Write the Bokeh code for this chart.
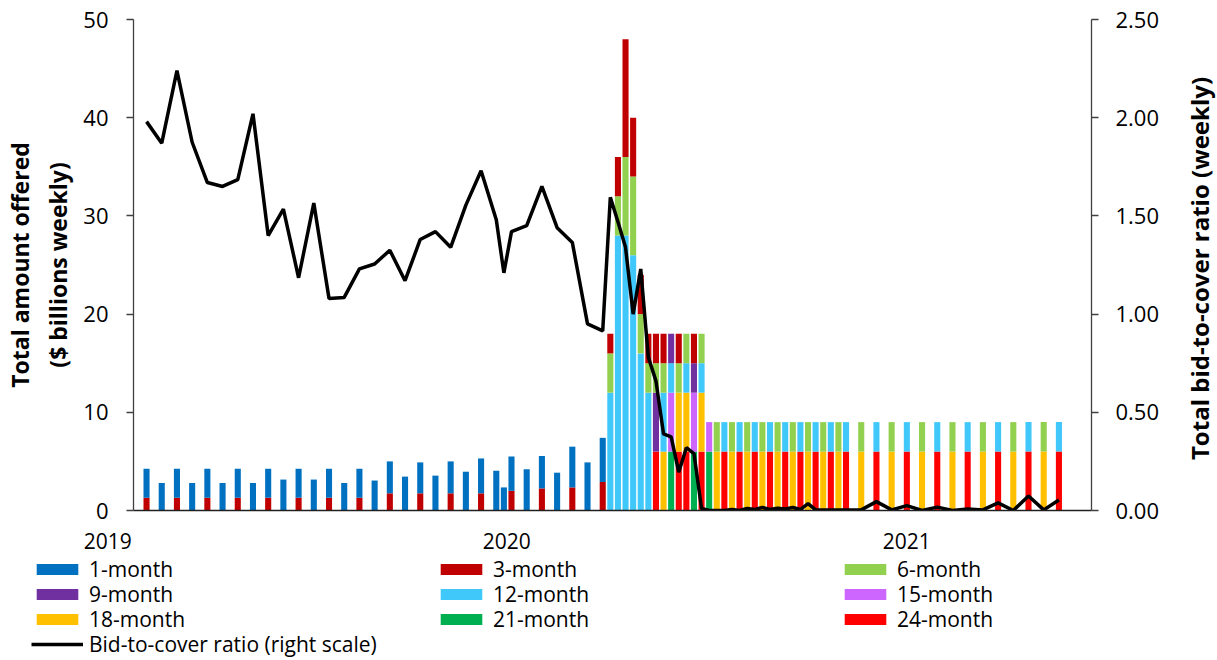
import math
import datetime as dt
import pandas as pd
from bokeh.plotting import figure
from bokeh.layouts import column, row
from bokeh.models import (ColumnDataSource, Range1d, LinearAxis, FixedTicker, Legend,
                          LegendItem, NumeralTickFormatter)
from bokeh.core.properties import value
from bokeh.embed import file_html
from bokeh.resources import INLINE

# ---------------- data ----------------
dates = [
    "2019-01-31", "2019-02-14", "2019-02-28", "2019-03-14", "2019-03-28", "2019-04-11",
    "2019-04-25", "2019-05-09", "2019-05-23", "2019-06-06", "2019-06-20", "2019-07-04",
    "2019-07-18", "2019-08-01", "2019-08-15", "2019-08-29", "2019-09-12", "2019-09-26",
    "2019-10-10", "2019-10-24", "2019-11-07", "2019-11-21", "2019-12-05", "2019-12-19",
    "2019-12-26",
    "2020-01-02", "2020-01-16", "2020-01-30", "2020-02-13", "2020-02-27", "2020-03-12",
    "2020-03-26",
    "2020-04-02", "2020-04-09", "2020-04-16", "2020-04-23", "2020-04-30", "2020-05-07",
    "2020-05-14", "2020-05-21", "2020-05-28", "2020-06-04", "2020-06-11", "2020-06-18",
    "2020-06-25",
    "2020-07-02", "2020-07-09", "2020-07-16", "2020-07-23", "2020-07-30", "2020-08-06",
    "2020-08-13", "2020-08-20", "2020-08-27", "2020-09-03", "2020-09-10", "2020-09-17",
    "2020-09-24", "2020-10-01", "2020-10-08", "2020-10-15", "2020-10-22", "2020-10-29",
    "2020-11-05",
    "2020-11-19", "2020-12-03", "2020-12-17", "2020-12-31", "2021-01-14", "2021-01-28",
    "2021-02-11", "2021-02-25", "2021-03-11", "2021-03-25", "2021-04-08", "2021-04-22",
    "2021-05-06", "2021-05-20",
]

m1 = [
    2.95, 2.8, 2.95, 2.8, 2.95, 2.8, 2.95, 2.8, 2.95, 3.15, 2.95, 3.15,
    2.95, 2.8, 2.95, 3.05, 3.25, 3.45, 3.15, 3.55, 3.25, 3.95, 3.55, 4.05,
    2.35,
    3.5, 4.2, 3.3, 3.85, 4.15, 4.9, 4.5,
    0, 0, 0, 0, 0, 0, 0, 0, 0, 0, 0, 0, 0,
    0, 0, 0, 0, 0, 0, 0, 0, 0, 0, 0, 0, 0, 0, 0, 0, 0, 0, 0,
    0, 0, 0, 0, 0, 0, 0, 0, 0, 0, 0, 0, 0, 0,
]
m3 = [
    1.3, 0, 1.3, 0, 1.3, 0, 1.3, 0, 1.3, 0, 1.3, 0,
    1.3, 0, 1.3, 0, 1.75, 0, 1.75, 0, 1.75, 0, 1.75, 0,
    0,
    2.0, 0, 2.25, 0, 2.35, 0, 2.9,
    2, 4, 12, 6, 4, 3, 3, 3, 0, 3, 0, 3, 0,
    0, 0, 0, 0, 0, 0, 0, 0, 0, 0, 0, 0, 0, 0, 0, 0, 0, 0, 0,
    0, 0, 0, 0, 0, 0, 0, 0, 0, 0, 0, 0, 0, 0,
]
m6 = [
    0, 0, 0, 0, 0, 0, 0, 0, 0, 0, 0, 0,
    0, 0, 0, 0, 0, 0, 0, 0, 0, 0, 0, 0,
    0,
    0, 0, 0, 0, 0, 0, 0,
    4, 4, 8, 8, 4, 3, 3, 3, 0, 3, 3, 0, 3,
    0, 3, 0, 3, 0, 3, 0, 3, 0, 3, 0, 3, 0, 3, 0, 3, 0, 3, 0,
    3, 0, 3, 0, 3, 0, 3, 0, 3, 0, 3, 0, 3, 0,
]
m9 = [
    0, 0, 0, 0, 0, 0, 0, 0, 0, 0, 0, 0,
    0, 0, 0, 0, 0, 0, 0, 0, 0, 0, 0, 0,
    0,
    0, 0, 0, 0, 0, 0, 0,
    0, 0, 0, 0, 0, 0, 6, 0, 3, 0, 0, 3, 0,
    0, 0, 0, 0, 0, 0, 0, 0, 0, 0, 0, 0, 0, 0, 0, 0, 0, 0, 0,
    0, 0, 0, 0, 0, 0, 0, 0, 0, 0, 0, 0, 0, 0,
]
m12 = [
    0, 0, 0, 0, 0, 0, 0, 0, 0, 0, 0, 0,
    0, 0, 0, 0, 0, 0, 0, 0, 0, 0, 0, 0,
    0,
    0, 0, 0, 0, 0, 0, 0,
    12, 28, 28, 26, 16, 12, 0, 6, 3, 0, 3, 0, 3,
    0, 0, 3, 0, 3, 0, 3, 0, 3, 0, 3, 0, 3, 0, 3, 0, 3, 0, 3,
    0, 3, 0, 3, 0, 3, 0, 3, 0, 3, 0, 3, 0, 3,
]
m15 = [
    0, 0, 0, 0, 0, 0, 0, 0, 0, 0, 0, 0,
    0, 0, 0, 0, 0, 0, 0, 0, 0, 0, 0, 0,
    0,
    0, 0, 0, 0, 0, 0, 0,
    0, 0, 0, 0, 0, 0, 0, 0, 6, 0, 0, 6, 0,
    3, 0, 0, 0, 0, 0, 0, 0, 0, 0, 0, 0, 0, 0, 0, 0, 0, 0, 0,
    0, 0, 0, 0, 0, 0, 0, 0, 0, 0, 0, 0, 0, 0,
]
m18 = [
    0, 0, 0, 0, 0, 0, 0, 0, 0, 0, 0, 0,
    0, 0, 0, 0, 0, 0, 0, 0, 0, 0, 0, 0,
    0,
    0, 0, 0, 0, 0, 0, 0,
    0, 0, 0, 0, 0, 0, 0, 6, 0, 6, 6, 0, 6,
    0, 6, 0, 6, 0, 6, 0, 6, 0, 6, 0, 6, 0, 6, 0, 6, 0, 6, 0,
    6, 0, 6, 0, 6, 0, 6, 0, 6, 0, 6, 0, 6, 0,
]
m21 = [
    0, 0, 0, 0, 0, 0, 0, 0, 0, 0, 0, 0,
    0, 0, 0, 0, 0, 0, 0, 0, 0, 0, 0, 0,
    0,
    0, 0, 0, 0, 0, 0, 0,
    0, 0, 0, 0, 0, 0, 0, 0, 6, 0, 0, 6, 0,
    6, 0, 0, 0, 0, 0, 0, 0, 0, 0, 0, 0, 0, 0, 0, 0, 0, 0, 0,
    0, 0, 0, 0, 0, 0, 0, 0, 0, 0, 0, 0, 0, 0,
]
m24 = [
    0, 0, 0, 0, 0, 0, 0, 0, 0, 0, 0, 0,
    0, 0, 0, 0, 0, 0, 0, 0, 0, 0, 0, 0,
    0,
    0, 0, 0, 0, 0, 0, 0,
    0, 0, 0, 0, 0, 0, 6, 0, 0, 6, 6, 0, 6,
    0, 0, 6, 0, 6, 0, 6, 0, 6, 0, 6, 0, 6, 0, 6, 0, 6, 0, 6,
    0, 6, 0, 6, 0, 6, 0, 6, 0, 6, 0, 6, 0, 6,
]
ratio = [
    1.98, 1.87, 2.24, 1.875, 1.67, 1.65, 1.685, 2.02, 1.40, 1.535, 1.185, 1.565,
    1.08, 1.085, 1.23, 1.255, 1.325, 1.17, 1.38, 1.42, 1.34, 1.555, 1.73, 1.48,
    1.21,
    1.42, 1.45, 1.65, 1.44, 1.365, 0.95, 0.915,
    1.595, 1.47, 1.34, 1.0, 1.23, 0.78, 0.66, 0.39, 0.375, 0.195, 0.32, 0.29, 0.01,
    0.0, 0.0, 0.0, 0.005, 0.0, 0.01, 0.005, 0.015, 0.005, 0.012, 0.008, 0.015,
    0.005, 0.035, 0.003, 0.003, 0.003, 0.003, 0.003,
    0.003, 0.045, 0.003, 0.025, 0.0, 0.017, 0.0, 0.008, 0.003, 0.039, 0.0, 0.074,
    0.003, 0.053,
]

series_keys = ["m1", "m3", "m6", "m9", "m12", "m15", "m18", "m21", "m24"]
series_names = ["1-month", "3-month", "6-month", "9-month", "12-month", "15-month",
                "18-month", "21-month", "24-month"]
series_colors = ["#0070C0", "#C00000", "#92D050", "#7030A0", "#41C8FA", "#CC66FF",
                 "#FFC000", "#00B050", "#FF0000"]
line_name = "Bid-to-cover ratio (right scale)"

year_labels = ["2019", "2020", "2021"]
year_dates = ["2019-01-01", "2020-01-01", "2021-01-01"]
left_ticks = [0, 10, 20, 30, 40, 50]
right_ticks = [0.0, 0.5, 1.0, 1.5, 2.0, 2.5]
left_title = "Total amount offered\n($ billions weekly)"
right_title = "Total bid-to-cover ratio (weekly)"

# ---------------- layout constants ----------------
FONT = "Open Sans"
W_TOTAL = 1217
W_TITLE = 34                 # strip holding the right-hand axis title
W_MAIN = W_TOTAL - W_TITLE
H_MAIN = 525
H_BOT = 135
FRAME_L, FRAME_R = 127, 1091
DAY = 86400000.0
x_start = dt.datetime(2019, 1, 19)
x_end = dt.datetime(2021, 6, 19)
px_per_day = (FRAME_R - FRAME_L) / ((x_end - x_start).total_seconds() / 86400.0)

# ---------------- main figure ----------------
src = ColumnDataSource(data=dict(
    x=pd.to_datetime(dates), m1=m1, m3=m3, m6=m6, m9=m9, m12=m12, m15=m15,
    m18=m18, m21=m21, m24=m24, ratio=ratio))

p = figure(width=W_MAIN, height=H_MAIN, x_axis_type="datetime",
           x_range=Range1d(x_start, x_end), y_range=Range1d(0, 50),
           output_backend="svg", toolbar_location=None,
           min_border_left=FRAME_L, min_border_right=W_MAIN - FRAME_R,
           min_border_top=19, min_border_bottom=15)
p.outline_line_color = None
p.xgrid.visible = False
p.ygrid.visible = False
p.extra_y_ranges = {"ratio": Range1d(0, 2.5)}

stack_keys = series_keys[::-1]          # 24-month at the bottom, 1-month on top
stack_colors = series_colors[::-1]
bars = p.vbar_stack(stack_keys, x="x", width=5.6 * DAY, fill_color=stack_colors,
                    line_color=None, source=src)

p.line("x", "ratio", source=src, y_range_name="ratio", line_color="black",
       line_width=3.5)

ya = p.yaxis[0]
ya.ticker = FixedTicker(ticks=left_ticks)
ya.axis_label = left_title
ya.axis_label_standoff = 6
ya.major_label_standoff = 18
ya.axis_label_text_font = FONT
ya.axis_label_text_font_style = "bold"
ya.axis_label_text_font_size = "23px"
ya.axis_label_text_color = "black"

ra = LinearAxis(y_range_name="ratio", ticker=FixedTicker(ticks=right_ticks),
                formatter=NumeralTickFormatter(format="0.00"))
ra.major_label_standoff = 17
p.add_layout(ra, "right")

for ax in (ya, ra):
    ax.major_label_text_font = FONT
    ax.major_label_text_font_size = "22px"
    ax.major_label_text_color = "black"
    ax.axis_line_color = "#404040"
    ax.axis_line_width = 1.3
    ax.major_tick_line_color = "#404040"
    ax.major_tick_line_width = 1.3
    ax.major_tick_out = 7
    ax.major_tick_in = 0
    ax.minor_tick_line_color = None

xa = p.xaxis[0]
xa.ticker = FixedTicker(ticks=[])
xa.major_tick_line_color = None
xa.minor_tick_line_color = None
xa.major_label_text_font_size = "0px"
xa.axis_line_color = "#202020"
xa.axis_line_width = 1.5

# ---------------- right strip: axis title reading bottom-to-top ----------------
p3 = figure(width=W_TITLE, height=H_MAIN, x_range=Range1d(0, W_TITLE),
            y_range=Range1d(0, H_MAIN), x_axis_location=None, y_axis_location=None,
            output_backend="svg", toolbar_location=None,
            min_border_left=0, min_border_right=0, min_border_top=0, min_border_bottom=0)
p3.outline_line_color = None
p3.xgrid.visible = False
p3.ygrid.visible = False
p3.text(x=[W_TITLE / 2 - 1], y=[H_MAIN - 268], text=[right_title], angle=math.pi / 2,
        text_align="center", text_baseline="middle", text_font=value(FONT),
        text_font_size="24px", text_font_style="bold", text_color="black")

# ---------------- bottom strip: year labels + legend ----------------
b_start = x_start - dt.timedelta(days=FRAME_L / px_per_day)
b_end = x_end + dt.timedelta(days=(W_TOTAL - FRAME_R) / px_per_day)
p2 = figure(width=W_TOTAL, height=H_BOT, x_range=Range1d(b_start, b_end),
            y_range=Range1d(0, H_BOT), x_axis_location=None, y_axis_location=None,
            output_backend="svg", toolbar_location=None,
            min_border_left=0, min_border_right=0, min_border_top=0, min_border_bottom=0)
p2.outline_line_color = None
p2.xgrid.visible = False
p2.ygrid.visible = False
for fig in (p, p2, p3):
    try:
        fig.frame_align = False
    except Exception:
        pass

ysrc = ColumnDataSource(data=dict(x=pd.to_datetime(year_dates), y=[H_BOT - 15] * 3,
                                  t=year_labels))
p2.text(x="x", y="y", text="t", source=ysrc, text_align="center",
        text_baseline="middle", text_font=value(FONT), text_font_size="21px",
        text_color="black")

# legend proxies (one zero-height datum parked left of the visible strip)
park = [b_start - dt.timedelta(days=60)]
proxies = []
for c in series_colors:
    proxies.append(p2.vbar(x=park, top=[0], width=1, fill_color=c, line_color=None))
proxies.append(p2.line(x=park, y=[0], line_color="black", line_width=3.5))
labels = series_names + [line_name]

rows = [[0, 1, 2], [3, 4, 5], [6, 7, 8], [9]]
row_centers = [46, 71, 96, 121]     # from top of strip
ITEM_H = 25
for r, yc in zip(rows, row_centers):
    leg = Legend(items=[LegendItem(label=labels[i], renderers=[proxies[i]]) for i in r],
                 location=(31, H_BOT - yc - ITEM_H // 2), orientation="horizontal",
                 glyph_width=52, glyph_height=14, label_standoff=6, label_width=345,
                 label_height=ITEM_H, spacing=1, padding=0, margin=0,
                 border_line_color=None, background_fill_alpha=0,
                 label_text_font=FONT, label_text_font_size="21px",
                 label_text_color="black")
    p2.add_layout(leg)

layout = column(row(p, p3, spacing=0), p2, spacing=0)
open("out.html", "w").write(file_html(layout, INLINE))
